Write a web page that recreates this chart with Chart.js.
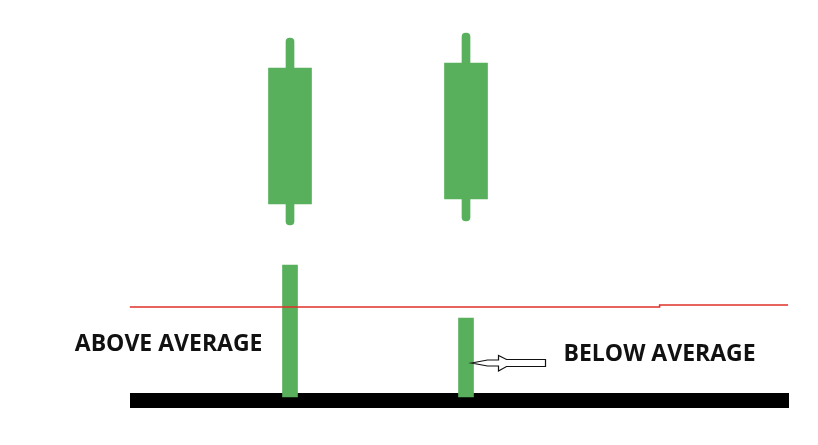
<!DOCTYPE html>
<html>
<head>
<meta charset="utf-8">
<title>Volume above / below average</title>
<script src="https://cdn.jsdelivr.net/npm/chart.js@4/dist/chart.umd.min.js"></script>
<style>
  html, body { margin: 0; padding: 0; background: #fff; }
  #wrap { width: 818px; height: 445px; }
</style>
</head>
<body>
<div id="wrap"><canvas id="candleChart"></canvas></div>
<script>
// candle data (two sessions)
const days = [1, 2];
const opens = [102.6, 103.1];
const highs = [119.2, 119.7];
const lows = [100.5, 100.9];
const closes = [116.2, 116.7];

// volume data
const volumes = [66, 39.5];
const avgBreaks = [0.09, 3.1, 3.83];   // x where average level starts / changes / ends
const avgLevels = [45, 46];

const labelAbove = 'ABOVE AVERAGE';
const labelBelow = 'BELOW AVERAGE';

const green = '#58b05c';
const red = '#e0302a';

// build average line points (small step where the level changes)
function buildAvgLine() {
  const pts = [];
  avgLevels.forEach((lvl, i) => {
    pts.push({ x: avgBreaks[i], y: lvl });
    pts.push({ x: avgBreaks[i + 1], y: lvl });
  });
  return pts;
}

// draws the text notes and the hollow arrow next to the volume bars
const notesPlugin = {
  id: 'notes',
  afterDatasetsDraw(chart) {
    const ctx = chart.ctx;
    const yv = chart.scales.yv;
    const bars = chart.getDatasetMeta(1).data;
    const b1 = bars[0], b2 = bars[1];

    ctx.save();
    ctx.font = 'bold 23px "Open Sans"';
    ctx.fillStyle = '#111';
    ctx.textBaseline = 'middle';

    // left note
    ctx.textAlign = 'right';
    ctx.fillText(labelAbove, b1.x - b1.width / 2 - 20, yv.getPixelForValue(26.5));

    // arrow pointing at the second bar
    const tipX = b2.x + b2.width / 2 - 2;
    const ay = yv.getPixelForValue(17);
    ctx.beginPath();
    ctx.moveTo(tipX, ay);
    ctx.lineTo(tipX + 16, ay - 3);
    ctx.lineTo(tipX + 27, ay - 3);
    ctx.lineTo(tipX + 27, ay - 7.5);
    ctx.lineTo(tipX + 35, ay - 3.5);
    ctx.lineTo(tipX + 74, ay - 3.5);
    ctx.lineTo(tipX + 74, ay + 3.5);
    ctx.lineTo(tipX + 35, ay + 3.5);
    ctx.lineTo(tipX + 27, ay + 8);
    ctx.lineTo(tipX + 27, ay + 3);
    ctx.lineTo(tipX + 16, ay + 3);
    ctx.closePath();
    ctx.fillStyle = '#fff';
    ctx.fill();
    ctx.lineWidth = 1.2;
    ctx.strokeStyle = '#111';
    ctx.stroke();

    // right note
    ctx.fillStyle = '#111';
    ctx.textAlign = 'left';
    ctx.fillText(labelBelow, tipX + 92, yv.getPixelForValue(21.5));
    ctx.restore();
  }
};

const ctx = document.getElementById('candleChart').getContext('2d');
new Chart(ctx, {
  type: 'bar',
  data: {
    datasets: [
      {
        // average volume line, drawn on top
        type: 'line',
        label: 'Average volume',
        data: buildAvgLine(),
        yAxisID: 'yv',
        borderColor: red,
        borderWidth: 1.5,
        pointRadius: 0,
        tension: 0,
        clip: false
      },
      {
        label: 'Volume',
        data: days.map((d, i) => ({ x: d, y: volumes[i] })),
        yAxisID: 'yv',
        backgroundColor: green,
        barThickness: 15,
        grouped: false
      },
      {
        label: 'Body',
        data: days.map((d, i) => ({ x: d, y: [opens[i], closes[i]] })),
        yAxisID: 'y',
        backgroundColor: green,
        barThickness: 43,
        grouped: false
      },
      {
        label: 'Wick',
        data: days.map((d, i) => ({ x: d, y: [lows[i], highs[i]] })),
        yAxisID: 'y',
        backgroundColor: green,
        barThickness: 8,
        borderRadius: 4,
        borderSkipped: false,
        grouped: false
      }
    ]
  },
  options: {
    responsive: true,
    maintainAspectRatio: false,
    animation: false,
    layout: {
      padding: { left: 137.5, right: 30, top: 30, bottom: 44.5 }
    },
    plugins: {
      legend: { display: false },
      tooltip: { enabled: false }
    },
    scales: {
      x: {
        type: 'linear',
        offset: false,
        min: 0.1335,
        max: 3.8295,
        grid: { display: false, drawTicks: false },
        ticks: { display: false },
        border: { display: true, color: '#000', width: 15 }
      },
      y: {
        display: false,
        min: 82.95,
        max: 120
      },
      yv: {
        display: false,
        min: -1.75,
        max: 183.5
      }
    }
  },
  plugins: [notesPlugin]
});
</script>
</body>
</html>
